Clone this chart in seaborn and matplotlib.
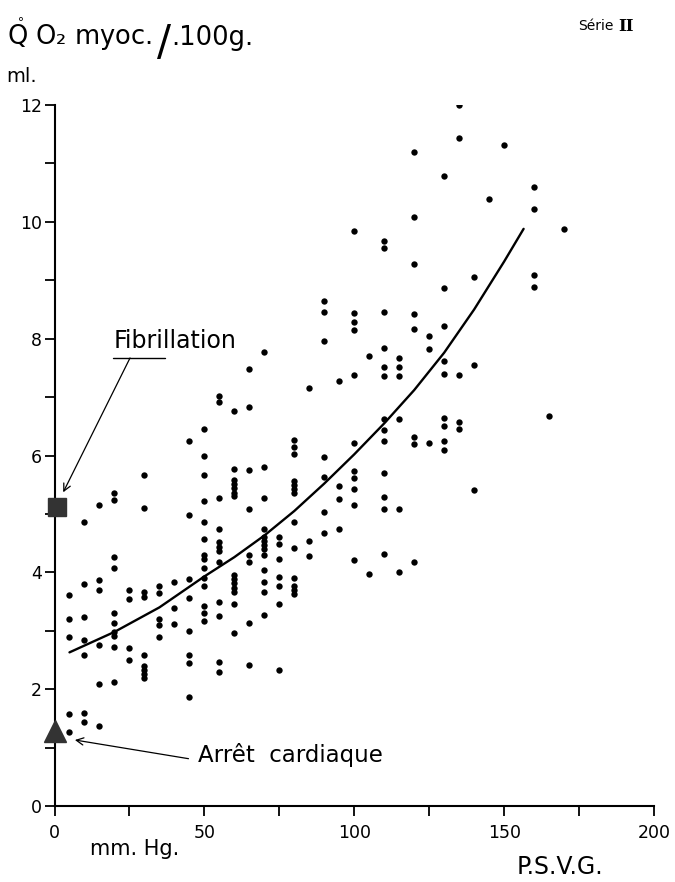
import matplotlib
matplotlib.use("Agg")
import matplotlib.pyplot as plt
import seaborn as sns
import pandas as pd
from matplotlib.ticker import MultipleLocator

# ---------------- data ----------------
# P.S.V.G. (mm Hg) and myocardial O2 consumption (ml / 100 g)
psvg = (
    [5] * 5 + [10] * 7 + [15] * 6 + [20] * 10 + [25] * 4 + [30] * 9 + [35] * 5 +
    [40] * 3 + [45] * 8 + [50] * 14 + [55] * 12 + [60] * 14 + [65] * 8 + [70] * 13 +
    [75] * 7 + [80] * 13 + [85] * 3 + [90] * 7 + [95] * 4 + [100] * 11 + [105] * 2 +
    [110] * 13 + [115] * 6 + [120] * 8 + [125] * 3 + [130] * 9 + [135] * 5 +
    [140] * 3 + [145] * 1 + [150] * 1 + [160] * 4 + [165] * 1 + [170] * 1
)
qo2 = [
    3.62, 3.20, 2.89, 1.58, 1.27,                                   # 5
    4.86, 3.80, 3.24, 2.84, 2.59, 1.60, 1.43,                       # 10
    5.15, 3.87, 3.70, 2.75, 2.09, 1.37,                             # 15
    5.36, 5.23, 4.27, 4.08, 3.31, 3.13, 2.98, 2.91, 2.72, 2.12,     # 20
    3.69, 3.54, 2.71, 2.50,                                         # 25
    5.67, 5.10, 3.67, 3.57, 2.59, 2.40, 2.33, 2.26, 2.19,           # 30
    3.77, 3.64, 3.20, 3.09, 2.89,                                   # 35
    3.83, 3.39, 3.11,                                               # 40
    6.24, 4.98, 3.89, 3.56, 2.99, 2.59, 2.44, 1.87,                 # 45
    6.46, 6.00, 5.66, 5.22, 4.87, 4.57, 4.30, 4.22, 4.07, 3.90,
    3.77, 3.42, 3.30, 3.17,                                         # 50
    7.01, 6.91, 5.27, 4.75, 4.52, 4.44, 4.37, 4.18, 3.49, 3.25,
    2.47, 2.30,                                                     # 55
    6.77, 5.77, 5.58, 5.51, 5.44, 5.36, 5.30, 3.96, 3.88, 3.81,
    3.74, 3.66, 3.45, 2.97,                                         # 60
    7.48, 6.83, 5.75, 5.09, 4.30, 4.17, 3.13, 2.41,                 # 65
    7.78, 5.81, 5.27, 4.75, 4.61, 4.54, 4.47, 4.40, 4.30, 4.04,
    3.84, 3.67, 3.27,                                               # 70
    4.61, 4.49, 4.22, 3.92, 3.77, 3.46, 2.32,                       # 75
    6.27, 6.15, 6.02, 5.57, 5.50, 5.42, 5.35, 4.86, 4.41, 3.90,
    3.76, 3.70, 3.63,                                               # 80
    7.16, 4.53, 4.28,                                               # 85
    8.64, 8.45, 7.96, 5.97, 5.64, 5.04, 4.67,                       # 90
    7.28, 5.48, 5.26, 4.74,                                         # 95
    9.85, 8.44, 8.28, 8.15, 7.37, 6.21, 5.74, 5.61, 5.42, 5.15,
    4.21,                                                           # 100
    7.71, 3.97,                                                     # 105
    9.68, 9.55, 8.46, 7.84, 7.51, 7.36, 6.63, 6.43, 6.24, 5.70,
    5.29, 5.09, 4.32,                                               # 110
    7.67, 7.51, 7.36, 6.62, 5.09, 4.00,                             # 115
    11.19, 10.08, 9.28, 8.42, 8.17, 6.31, 6.20, 4.17,               # 120
    8.04, 7.83, 6.22,                                               # 125
    10.79, 8.86, 8.22, 7.61, 7.39, 6.64, 6.51, 6.24, 6.10,          # 130
    12.00, 11.44, 7.37, 6.57, 6.45,                                 # 135
    9.06, 7.55, 5.41,                                               # 140
    10.39,                                                          # 145
    11.32,                                                          # 150
    10.59, 10.22, 9.09, 8.88,                                       # 160
    6.68,                                                           # 165
    9.87,                                                           # 170
]

# fitted curve, points
curve_x = [5, 20, 35, 50, 60, 70, 80, 90, 100, 110, 120, 130, 140, 150, 156.5]
curve_y = [2.63, 2.98, 3.40, 3.93, 4.26, 4.63, 5.05, 5.52, 6.02, 6.55,
           7.12, 7.76, 8.50, 9.32, 9.88]

# special states at zero pressure
fib_x, fib_y = [0.8], [5.12]        # Fibrillation (square)
arrest_x, arrest_y = [0.2], [1.29]  # Arrêt cardiaque (triangle)

x_ticks = [0, 50, 100, 150, 200]
y_ticks = [0, 2, 4, 6, 8, 10, 12]

# ---------------- drawing ----------------
sns.set_theme(style="ticks")
plt.rcParams["font.family"] = ["DejaVu Sans"]
plt.rcParams["text.color"] = "black"
plt.rcParams["mathtext.fontset"] = "dejavusans"

W, H = 675, 882
fig = plt.figure(figsize=(W / 100, H / 100), dpi=100)
fig.patch.set_facecolor("white")
ax = fig.add_axes([54.5 / W, 1 - 806 / H, 599.5 / W, 701 / H])
ax.set_facecolor("white")

df = pd.DataFrame({"psvg": psvg, "qo2": qo2})
sns.scatterplot(data=df, x="psvg", y="qo2", color="black", s=21,
                linewidth=0, ax=ax, zorder=3)
sns.lineplot(x=curve_x, y=curve_y, sort=False, estimator=None,
             color="black", linewidth=1.7, ax=ax, zorder=2)

ax.plot(fib_x, fib_y, marker="s", ms=12.5, color="#333333", ls="none",
        clip_on=False, zorder=5)
ax.plot(arrest_x, arrest_y, marker="^", ms=16, color="#333333", ls="none",
        clip_on=False, zorder=5)

ax.set_xlim(0, 200)
ax.set_ylim(0, 12)
ax.set_xticks(x_ticks)
ax.set_yticks(y_ticks)
ax.xaxis.set_minor_locator(MultipleLocator(25))
ax.yaxis.set_minor_locator(MultipleLocator(1))
ax.set_xlabel("")
ax.set_ylabel("")
sns.despine(ax=ax)
for side in ("left", "bottom"):
    ax.spines[side].set_linewidth(1.5)
    ax.spines[side].set_color("black")
ax.tick_params(which="both", direction="out", color="black", width=1.3,
               labelcolor="black")
ax.tick_params(axis="x", which="both", length=7, pad=6, labelsize=12.5)
ax.tick_params(axis="y", which="both", length=7, pad=2, labelsize=12.5)

# annotations
arrow = dict(arrowstyle="->", color="black", lw=0.9, shrinkA=0, shrinkB=0,
             mutation_scale=13)
ax.text(19.6, 7.84, "Fibrillation", fontsize=17, ha="left", va="baseline",
        color="black")
ax.plot([19.6, 36.8], [7.67, 7.67], color="black", lw=1.0)
ax.annotate("", xy=(2.9, 5.37), xytext=(25.2, 7.67), arrowprops=arrow)
ax.text(47.8, 0.87, "Arrêt  cardiaque", fontsize=16.5, ha="left",
        va="center", color="black")
ax.annotate("", xy=(6.8, 1.13), xytext=(44.7, 0.81), arrowprops=arrow)


def ftext(px, py, s, **kw):
    fig.text(px / W, 1 - py / H, s, color="black", **kw)


# axis titles
ftext(135, 849, "mm. Hg.", fontsize=15, ha="center", va="center")
ftext(560, 867, "P.S.V.G.", fontsize=17, ha="center", va="center")

# top titles
ftext(6.5, 45, r"$\mathring{\mathrm{Q}}$ O₂ myoc.", fontsize=18.5,
      ha="left", va="baseline")
ftext(157, 55, "/", fontsize=30, ha="left", va="baseline")
ftext(171, 45, ".100g.", fontsize=18.5, ha="left", va="baseline")
ftext(6.5, 82, "ml.", fontsize=14, ha="left", va="baseline")
ftext(578, 30, "Série", fontsize=10, ha="left", va="baseline")
ftext(618, 31, "II", fontsize=12, ha="left", va="baseline",
      family="DejaVu Serif", weight="bold")

fig.savefig("out.png", dpi=100, facecolor="white")
